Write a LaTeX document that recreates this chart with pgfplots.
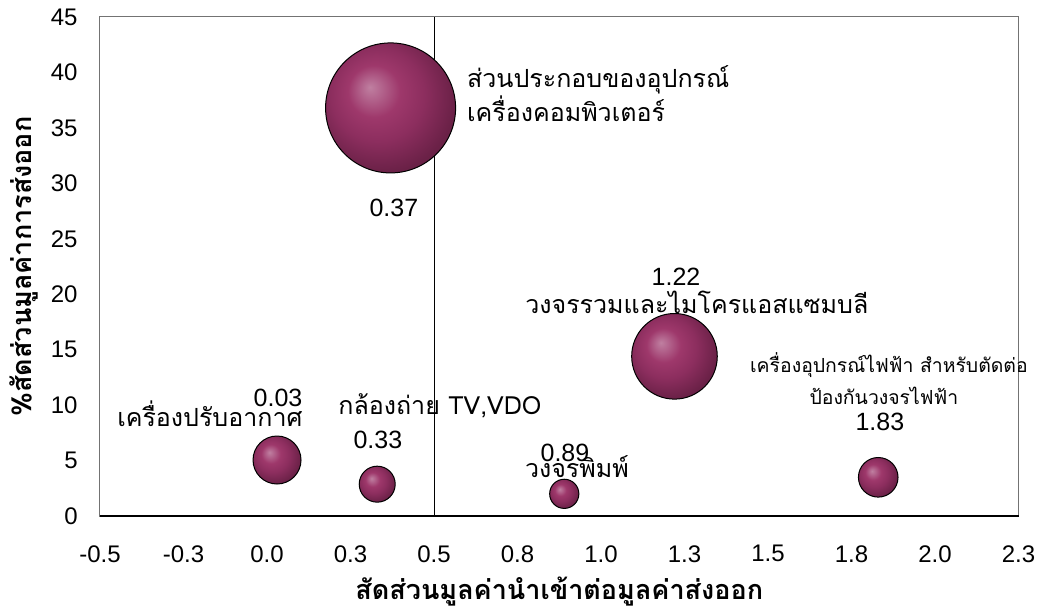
\documentclass[border=0pt]{standalone}
\usepackage{fontspec}
\setmainfont{Liberation Sans}
\newfontfamily\thai[Script=Thai]{Loma}
\usepackage{pgfplots}
\usepackage{pgfplotstable}
\pgfplotsset{compat=1.18}
\tikzset{lab/.style={inner sep=0pt}}

\pgfdeclareradialshading{bubshade}{\pgfpoint{-8bp}{8bp}}{%
  rgb(0bp)=(0.75,0.50,0.63);
  rgb(4bp)=(0.70,0.39,0.55);
  rgb(10bp)=(0.62,0.22,0.42);
  rgb(18bp)=(0.55,0.18,0.37);
  rgb(28bp)=(0.42,0.13,0.28);
  rgb(36bp)=(0.36,0.11,0.24);
  rgb(50bp)=(0.36,0.11,0.24)}
\pgfdeclareplotmark{bubble}{%
  \pgfpathcircle{\pgfpointorigin}{\pgfplotmarksize}%
  \pgfshadepath{bubshade}{0}%
  \pgfusepathqstroke
}

\pgfplotstableread{
x     y     r
0.37  36.8  32.5
1.22  14.4  21.4
0.03  5.05  12.0
0.33  2.87  9.0
0.89  2.00  7.3
1.83  3.49  9.9
}\bubbles

\newcommand{\dl}{\fontsize{12.5}{15}\selectfont}
\newcommand{\tl}{\thai\fontsize{12.5}{15}\selectfont}
\newcommand{\ts}{\thai\fontsize{9.7}{12}\selectfont}

\begin{document}
\begin{tikzpicture}
\useasboundingbox (-50pt,-47.5pt) rectangle (469pt,258pt);
\begin{axis}[
  scale only axis,
  width=459.25pt, height=249.5pt,
  xmin=-0.5, xmax=2.25,
  ymin=0, ymax=45,
  xtick={-0.5,-0.25,0,0.25,0.5,0.75,1,1.25,1.5,1.75,2,2.25},
  xticklabels={-0.5,-0.3,0.0,0.3,0.5,0.8,1.0,1.3,1.5,1.8,2.0,2.3},
  ytick={0,5,...,45},
  /pgf/number format/assume math mode=true,
  major tick length=0pt,
  tick label style={font=\fontsize{12}{14}\selectfont, inner sep=0pt},
  xticklabel style={anchor=north, yshift=-14.5pt},
  yticklabel style={anchor=east, xshift=-11pt},
  axis line style={draw=black!55, line width=0.5pt},
  clip=false,
  xlabel={\thai\bfseries\fontsize{13.5}{16}\selectfont สัดส่วนมูลค่านำเข้าต่อมูลค่าส่งออก},
  ylabel={\thai\bfseries\fontsize{13.5}{16}\selectfont \%สัดส่วนมูลค่าการส่งออก},
  every axis x label/.style={at={(axis description cs:0.5,-0.1683)}, anchor=base, inner sep=0pt},
  every axis y label/.style={at={(axis description cs:-0.07403,0.5)}, rotate=90, anchor=base, inner sep=0pt},
]
\addplot[black, line width=0.5pt, forget plot] coordinates {(0.5,0) (0.5,45)};

\addplot[scatter, only marks, mark=bubble, line width=0.5pt,
  point meta=explicit,
  scatter/use mapped color={draw=black},
  visualization depends on={\thisrow{r} \as \perpointmarksize},
  scatter/@pre marker code/.append style={/tikz/mark size=\perpointmarksize}]
  table[x=x, y=y, meta=r] {\bubbles};

\draw[black, line width=1pt] (rel axis cs:0,0) -- (rel axis cs:1,0);

\node[lab, anchor=base] at (axis cs:0.380,26.99) {\dl 0.37};
\node[lab, anchor=base west] at (axis cs:0.598,38.6) {\tl ส่วนประกอบของอุปกรณ์};
\node[lab, anchor=base west] at (axis cs:0.598,35.56) {\tl เครื่องคอมพิวเตอร์};

\node[lab, anchor=base] at (axis cs:1.2246,20.83) {\dl 1.22};
\node[lab, anchor=base] at (axis cs:1.287,18.28) {\tl วงจรรวมและไมโครแอสแซมบลี};

\node[lab, anchor=base] at (axis cs:1.862,12.92) {\ts เครื่องอุปกรณ์ไฟฟ้า สำหรับตัดต่อ};
\node[lab, anchor=base] at (axis cs:1.847,10.05) {\ts ป้องกันวงจรไฟฟ้า};
\node[lab, anchor=base] at (axis cs:1.835,7.70) {\dl 1.83};

\node[lab, anchor=base] at (axis cs:0.033,9.86) {\dl 0.03};
\node[lab, anchor=base] at (axis cs:-0.171,8.05) {\tl เครื่องปรับอากาศ};

\node[lab, anchor=base west] at (axis cs:0.2126,9.11) {\tl กล้องถ่าย\dl\ TV,VDO};
\node[lab, anchor=base] at (axis cs:0.332,6.13) {\dl 0.33};

\node[lab, anchor=base] at (axis cs:0.892,4.90) {\dl 0.89};
\node[lab, anchor=base] at (axis cs:0.928,3.43) {\tl วงจรพิมพ์};
\end{axis}
\end{tikzpicture}
\end{document}
